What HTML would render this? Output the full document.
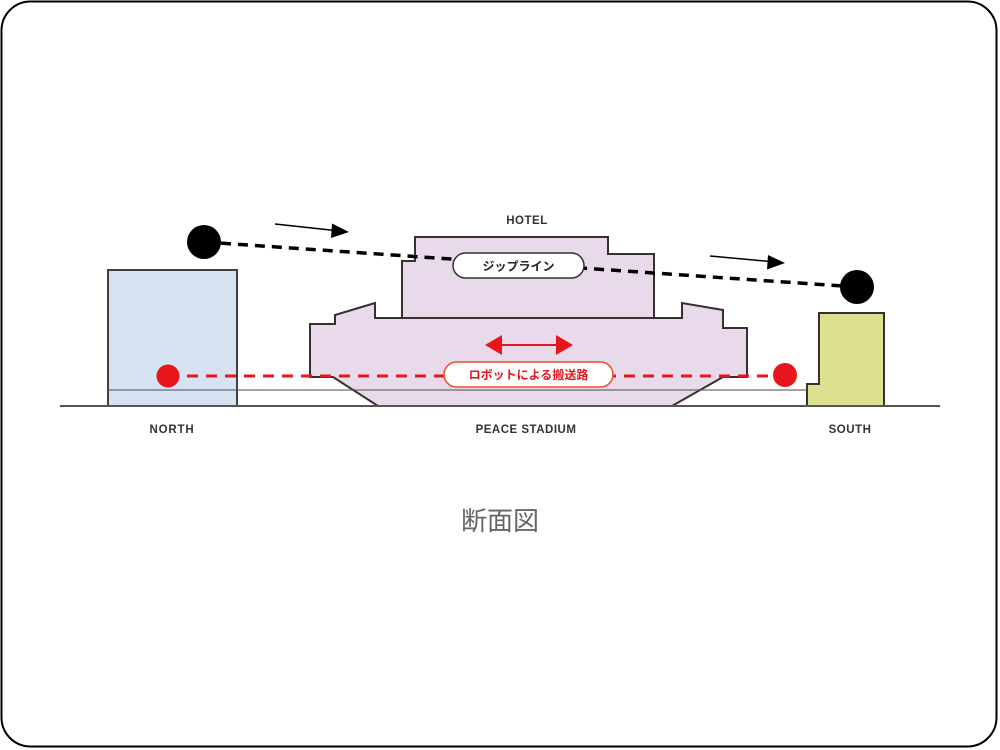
<!DOCTYPE html>
<html>
<head>
<meta charset="utf-8">
<style>
html,body{margin:0;padding:0;background:#fff;}
svg{display:block;}
text{font-family:"Liberation Sans","Noto Sans CJK JP",sans-serif;}
</style>
</head>
<body>
<svg width="1000" height="750" viewBox="0 0 1000 750" xmlns="http://www.w3.org/2000/svg">
  <rect x="1.5" y="1.5" width="995" height="745" rx="29" ry="29" fill="#fff" stroke="#000" stroke-width="2"/>

  <!-- North building -->
  <rect x="108" y="270" width="129" height="136" fill="#d6e2f2" stroke="#4a3c3c" stroke-width="2"/>

  <!-- South building -->
  <path d="M819,313 L884,313 L884,406 L807,406 L807,384 L819,384 Z" fill="#dce190" stroke="#3a2e2e" stroke-width="2"/>

  <!-- Stadium -->
  <path d="M310,324 L335,324 L335,315 L375,303 L375,318 L682,318 L682,303 L723,310 L723,328 L747,328 L747,377 L723,377 L672,406 L378,406 L333,377 L310,377 Z" fill="#e8d9eb" stroke="#3a2e2e" stroke-width="2" stroke-linejoin="miter"/>

  <!-- Hotel -->
  <path d="M402,318 L402,261 L415,261 L415,237 L608,237 L608,254 L654,254 L654,318 Z" fill="#e8d9eb" stroke="#3a2e2e" stroke-width="2"/>

  <!-- thin gray line -->
  <line x1="108" y1="390" x2="807" y2="390" stroke="#555" stroke-width="1.5" opacity="0.7"/>
  <!-- ground -->
  <line x1="60" y1="406" x2="940" y2="406" stroke="#555" stroke-width="2"/>

  <!-- zipline -->
  <line x1="204" y1="242" x2="857" y2="287" stroke="#000" stroke-width="3.5" stroke-dasharray="10,7"/>
  <circle cx="204" cy="242" r="17" fill="#000"/>
  <circle cx="857" cy="287" r="17" fill="#000"/>

  <!-- direction arrows -->
  <line x1="275" y1="224" x2="335" y2="230.5" stroke="#000" stroke-width="1.5"/>
  <polygon points="349,232 332,223.5 331,238" fill="#000"/>
  <line x1="710" y1="256" x2="770" y2="261.5" stroke="#000" stroke-width="1.5"/>
  <polygon points="785,263 768,255 767,269.5" fill="#000"/>

  <!-- zipline label -->
  <rect x="453" y="253" width="131" height="25" rx="12.5" ry="12.5" fill="#fff" stroke="#333" stroke-width="1.5"/>
  <text x="518.5" y="270.5" font-size="12" font-weight="bold" fill="#222" text-anchor="middle">ジップライン</text>

  <!-- robot path -->
  <line x1="168" y1="376" x2="785" y2="376" stroke="#e8161c" stroke-width="3" stroke-dasharray="11,8"/>
  <circle cx="168" cy="376" r="11.5" fill="#e8161c"/>
  <circle cx="785" cy="375" r="12" fill="#e8161c"/>

  <!-- double arrow -->
  <line x1="498" y1="345" x2="560" y2="345" stroke="#e8161c" stroke-width="2"/>
  <polygon points="485,345 502,335 502,355" fill="#e8161c"/>
  <polygon points="573,345 556,335 556,355" fill="#e8161c"/>

  <!-- robot label -->
  <rect x="444" y="362" width="169" height="25" rx="12.5" ry="12.5" fill="#fff" stroke="#e8502a" stroke-width="1.5"/>
  <text x="528.5" y="379" font-size="12" font-weight="bold" fill="#e8161c" text-anchor="middle">ロボットによる搬送路</text>

  <!-- labels -->
  <text x="527" y="224" font-size="11.5" font-weight="bold" fill="#333" text-anchor="middle" letter-spacing="0.5">HOTEL</text>
  <text x="172" y="433" font-size="11.5" font-weight="bold" fill="#333" text-anchor="middle" letter-spacing="0.8">NORTH</text>
  <text x="526" y="433" font-size="11.5" font-weight="bold" fill="#333" text-anchor="middle" letter-spacing="0.5">PEACE STADIUM</text>
  <text x="850" y="433" font-size="11.5" font-weight="bold" fill="#333" text-anchor="middle" letter-spacing="0.5">SOUTH</text>

  <text x="500" y="530" font-size="26" fill="#666" text-anchor="middle">断面図</text>
</svg>
</body>
</html>
